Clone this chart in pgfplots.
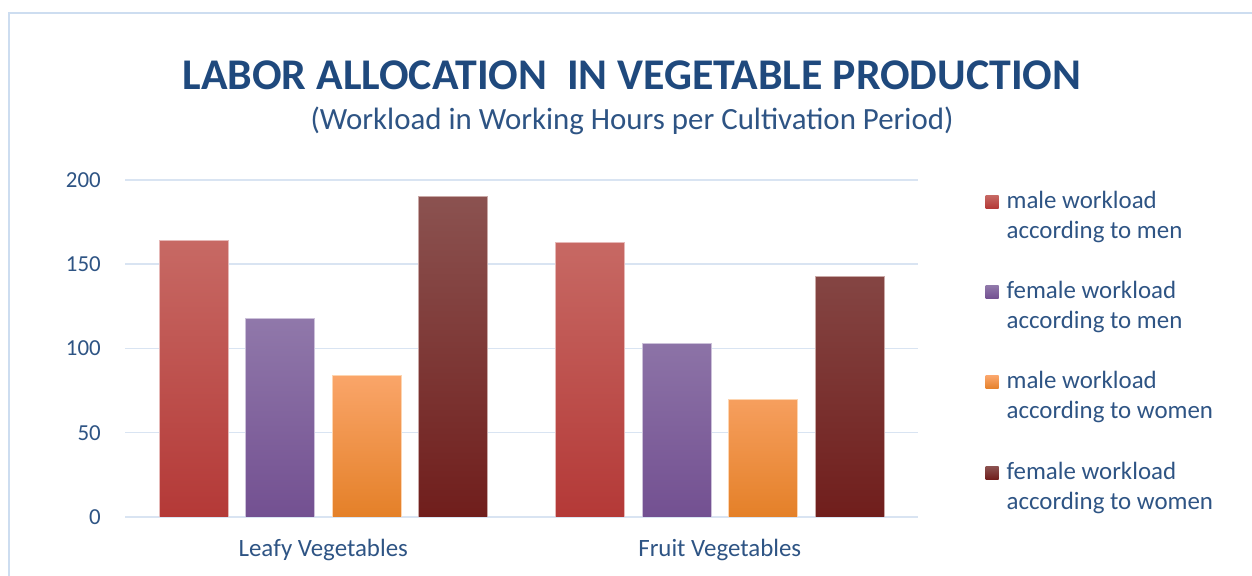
\documentclass[border=0pt]{standalone}
\usepackage{pgfplots}
\pgfplotsset{compat=1.18}
\usepackage{fontspec}
\setmainfont{Carlito}
\definecolor{titleblue}{RGB}{31,73,125}
\definecolor{lblblue}{RGB}{46,84,132}
\definecolor{gridblue}{RGB}{217,228,242}
\definecolor{frameblue}{RGB}{205,221,240}
\definecolor{redT}{RGB}{199,105,100}
\definecolor{redM}{RGB}{192,78,74}
\definecolor{redB}{RGB}{180,57,55}
\definecolor{purT}{RGB}{144,120,170}
\definecolor{purM}{RGB}{128,100,160}
\definecolor{purB}{RGB}{115,80,145}
\definecolor{orgT}{RGB}{250,165,105}
\definecolor{orgM}{RGB}{250,150,60}
\definecolor{orgB}{RGB}{228,128,40}
\definecolor{drkT}{RGB}{139,82,80}
\definecolor{drkM}{RGB}{122,40,36}
\definecolor{drkB}{RGB}{112,30,28}
\newcommand{\twoline}[2]{{\def\arraystretch{1.0}\begin{tabular}[t]{@{}l@{}}#1\\#2\end{tabular}}}
\begin{document}
\begin{tikzpicture}[x=1bp,y=1bp]
\useasboundingbox (0,0) rectangle (1252,576);
\draw[frameblue, line width=2bp] (9,0) -- (9,563) -- (1252,563);
\node[text=titleblue, font=\fontsize{44}{52}\selectfont\bfseries] at (632,501) {LABOR ALLOCATION\ \ IN VEGETABLE PRODUCTION};
\node[text=lblblue, font=\fontsize{31}{37}\selectfont] at (632,455) {(Workload in Working Hours per Cultivation Period)};
\begin{axis}[
  at={(125bp,59bp)}, anchor=south west,
  scale only axis, width=793bp, height=337bp,
  ymin=0, ymax=200, xmin=-0.5, xmax=1.5,
  ytick={0,50,100,150,200},
  xtick={0,1}, xticklabels={Leafy Vegetables, Fruit Vegetables},
  axis line style={draw=none}, major tick style={draw=none},
  ymajorgrids, grid style={gridblue, line width=1.5bp},
  ybar=17.5bp, bar width=69bp,
  tick label style={text=lblblue, font=\fontsize{23}{27.6}\selectfont},
  yticklabel style={inner xsep=0pt, xshift=-24bp},
  xticklabel style={inner ysep=0pt, yshift=-18bp, font=\fontsize{25}{30}\selectfont},
  /pgf/number format/assume math mode=true,
  legend style={at={(1.085,0.985)}, anchor=north west, draw=none, fill=none,
    inner sep=0pt, row sep=64bp, column sep=6bp,
    cells={anchor=base west}, text=lblblue,
    font=\fontsize{25}{30}\selectfont},
  legend image code/.code={\path[#1, draw=none] (0bp,0bp) rectangle (13bp,13bp);},
]
\addplot[draw=white!60!redM, line width=0.8bp, top color=redT, middle color=redM, bottom color=redB]
  coordinates {(0,164) (1,163)};
\addlegendentry{\twoline{male workload}{according to men}}
\addplot[draw=white!60!purM, line width=0.8bp, top color=purT, middle color=purM, bottom color=purB]
  coordinates {(0,118) (1,103)};
\addlegendentry{\twoline{female workload}{according to men}}
\addplot[draw=white!60!orgM, line width=0.8bp, top color=orgT, middle color=orgM, bottom color=orgB]
  coordinates {(0,84) (1,70)};
\addlegendentry{\twoline{male workload}{according to women}}
\addplot[draw=white!60!drkM, line width=0.8bp, top color=drkT, middle color=drkM, bottom color=drkB]
  coordinates {(0,190) (1,143)};
\addlegendentry{\twoline{female workload}{according to women}}
\end{axis}
\end{tikzpicture}
\end{document}
